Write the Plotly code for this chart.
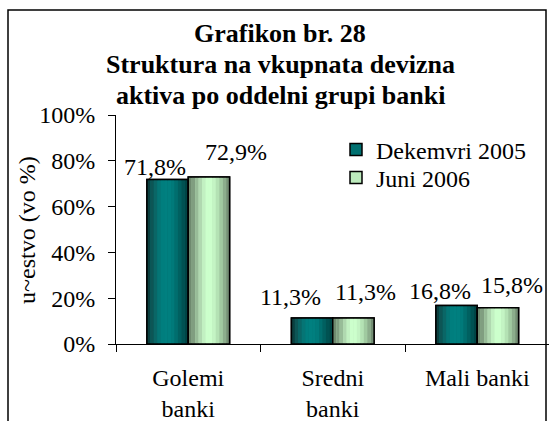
import plotly.graph_objects as go

categories = ["Golemi<br>banki", "Sredni<br>banki", "Mali banki"]
series_names = ["Dekemvri 2005", "Juni 2006"]
dec_2005 = [71.8, 11.3, 16.8]
jun_2006 = [72.9, 11.3, 15.8]
y_ticks = [0, 20, 40, 60, 80, 100]
title_lines = ["Grafikon br. 28", "Struktura na vkupnata devizna", "aktiva po oddelni grupi banki"]
y_title = "u~estvo (vo %)"

# ---- styling (not data) ----
FONT = "'Liberation Serif', 'DejaVu Serif', serif"
FS = 24
BAR_W = 0.286
dark_stripes = ["#0B3F3F", "#0D5555", "#0A6666", "#057575", "#007E7E", "#008080",
                "#007F7F", "#007A7A", "#006E6E", "#006060", "#005252", "#004545"]
light_stripes = ["#6F8A6F", "#809E80", "#98BC98", "#B0D8B0", "#C2F0C2", "#CCFFCC",
                 "#CCFFCC", "#C4F4C4", "#B4E2B4", "#A0CAA0", "#8CAE8C", "#748F74"]
# label placement offsets (pixels) relative to category centre / bar top
dec_label_dx = [-33, -42, -37]
dec_label_dy = [-2, 6, 0]
jun_label_dx = [48, 33, 35]
jun_label_dy = [10, 11, 8]


def fmt(v):
    return f"{v:.1f}".replace(".", ",") + "%"


fig = go.Figure()


def add_series(name, values, offset, stripes, mid_color, legend_id):
    fig.add_trace(go.Bar(
        x=categories, y=values, name=name, offset=offset, width=BAR_W,
        marker=dict(color=mid_color, line=dict(color="black", width=1.5)),
        hoverinfo="skip", legend=legend_id,
    ))
    n = len(stripes)
    sw = BAR_W / n
    for k, col in enumerate(stripes):
        fig.add_trace(go.Bar(
            x=categories, y=values, offset=offset + k * sw, width=sw * 1.02,
            marker=dict(color=col, line=dict(width=0)),
            showlegend=False, hoverinfo="skip",
        ))
    fig.add_trace(go.Bar(
        x=categories, y=values, offset=offset, width=BAR_W,
        marker=dict(color="rgba(0,0,0,0)", line=dict(color="black", width=1.5)),
        showlegend=False, hoverinfo="skip",
    ))


add_series(series_names[0], dec_2005, -BAR_W, dark_stripes, "#007070", "legend")
add_series(series_names[1], jun_2006, 0.0, light_stripes, "#BDEBBD", "legend2")

for vals, dxs, dys in [(dec_2005, dec_label_dx, dec_label_dy),
                       (jun_2006, jun_label_dx, jun_label_dy)]:
    for cat, v, dx, dy in zip(categories, vals, dxs, dys):
        fig.add_annotation(
            x=cat, y=v, xref="x", yref="y", text=fmt(v), showarrow=False,
            xanchor="center", yanchor="bottom", xshift=dx, yshift=dy,
            font=dict(family=FONT, size=FS, color="black"),
        )

W, H = 549, 421
ml, mr, mt, mb = 116, 0, 115, H - 344
pw = W - ml - mr
ph = H - mt - mb


def px_x(x):
    return (x - ml) / pw


def px_y(y):
    return (H - mb - y) / ph


legend_common = dict(xanchor="left", yanchor="middle",
                     font=dict(family=FONT, size=FS, color="black"),
                     bgcolor="rgba(0,0,0,0)", itemwidth=30)

fig.update_layout(
    width=W, height=H,
    margin=dict(l=ml, r=mr, t=mt, b=mb),
    paper_bgcolor="white", plot_bgcolor="white",
    barmode="overlay",
    font=dict(family=FONT, size=FS, color="black"),
    showlegend=True,
    legend=dict(x=px_x(336), y=px_y(150), **legend_common),
    legend2=dict(x=px_x(336), y=px_y(178), **legend_common),
    xaxis=dict(
        range=[-0.5, 2.5 - (ml + 3 * 144.5 - W) / 144.5], showline=True,
        linecolor="black", linewidth=1,
        ticks="outside", ticklen=7, tickcolor="black", tickson="boundaries",
        tickfont=dict(family=FONT, size=FS, color="black"), ticklabelstandoff=12,
        showgrid=False, zeroline=False,
    ),
    yaxis=dict(
        range=[0, 100], tickvals=y_ticks, ticktext=[f"{t}%" for t in y_ticks],
        showline=True, linecolor="black", linewidth=1,
        ticks="outside", ticklen=7, tickcolor="black", ticklabelstandoff=8,
        tickfont=dict(family=FONT, size=FS, color="black"),
        showgrid=False, zeroline=False,
    ),
)

fig.add_annotation(
    text=y_title, xref="paper", yref="paper", x=px_x(27), y=px_y(230),
    xanchor="center", yanchor="middle", textangle=-90, showarrow=False,
    font=dict(family=FONT, size=FS, color="black"),
)

for i, line in enumerate(title_lines):
    fig.add_annotation(
        text=f"<b>{line}</b>", xref="paper", yref="paper",
        x=px_x(280), y=px_y(33 + 31 * i), xanchor="center", yanchor="middle",
        showarrow=False, font=dict(family=FONT, size=26, color="black"),
    )

fig.add_shape(type="rect", xref="paper", yref="paper",
              x0=px_x(8), x1=px_x(546), y0=px_y(440), y1=px_y(10),
              line=dict(color="black", width=1.5), fillcolor="rgba(0,0,0,0)", layer="below")

fig.write_html("out.html", config={"displayModeBar": False},
               post_script="document.body.style.margin='0';document.body.style.overflow='hidden';")
